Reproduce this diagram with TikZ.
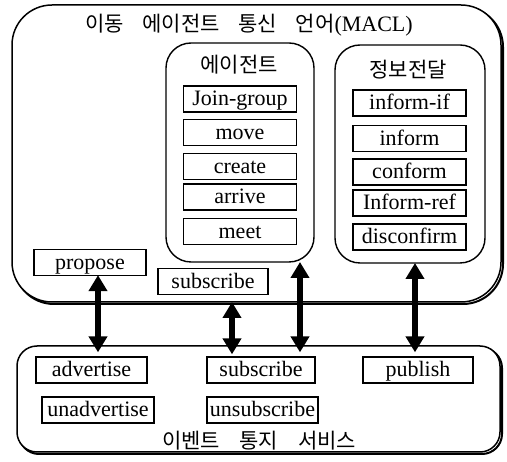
\documentclass[tikz,border=0pt]{standalone}
\usepackage{fontspec}
\setmainfont{Liberation Serif}
\newfontfamily\krfont{Noto Sans CJK KR}
\usetikzlibrary{arrows.meta}
\tikzset{
  item/.style={draw, line width=1.3pt, inner sep=0pt, minimum height=26pt, text height=16pt, text depth=2pt, font=\fontsize{22}{22}\selectfont},
  grp/.style={line width=1.4pt, rounded corners=#1},
  kr/.style={font=\krfont\fontsize{21}{21}\selectfont, inner sep=0pt},
  bigarrow/.style={line width=6pt, {Triangle[length=16pt,width=18pt]}-{Triangle[length=16pt,width=18pt]}},
}
\begin{document}
\begin{tikzpicture}[x=1pt,y=-1pt]
\useasboundingbox (0,0) rectangle (507,462);
% outer MACL box with shadow
\draw[line width=2pt, rounded corners=40pt] (14,7) rectangle (503,304);
\draw[fill=white, line width=1.5pt, rounded corners=40pt] (12,5) rectangle (501,302);
\node[kr] (title) at (249,25) {이동\hspace{14pt} 에이전트\hspace{14pt} 통신\hspace{14pt} 언어{\rmfamily\fontsize{22}{22}\selectfont(MACL)}};
% agent box
\draw[grp=25pt] (166,43) rectangle (314,262);
\node[kr] (agt) at (239,65) {에이전트};
\node[item, minimum width=113pt] (join) at (240,99) {Join-group};
\node[item, minimum width=113pt] (move) at (240,132.5) {move};
\node[item, minimum width=113pt] (create) at (240,166.5) {create};
\node[item, minimum width=113pt] (arrive) at (240,197) {arrive};
\node[item, minimum width=113pt] (meet) at (240,231.5) {meet};
\coordinate (agtbox) at (240,262);
% info box
\draw[grp=25pt] (335,45) rectangle (485,263);
\node[kr] (info) at (408,70) {정보전달};
\node[item, minimum width=113pt] (iif) at (409.5,103) {inform-if};
\node[item, minimum width=113pt] (inf) at (409.5,138.5) {inform};
\node[item, minimum width=113pt] (conf) at (409.5,172) {conform};
\node[item, minimum width=113pt] (iref) at (409.5,203) {Inform-ref};
\node[item, minimum width=113pt] (disc) at (409.5,237) {disconfirm};
\coordinate (infobox) at (410,263);
% propose / subscribe
\node[item, minimum width=112pt] (propose) at (90,262.5) {propose};
\node[item, minimum width=110pt] (subu) at (213,281.5) {subscribe};
\coordinate (outerbot) at (232,302);
% bottom box with shadow
\draw[line width=2pt, rounded corners=20pt] (19,348) rectangle (502,454);
\draw[fill=white, line width=1.5pt, rounded corners=20pt] (17,346) rectangle (500,452);
\node[item, minimum width=111pt] (adv) at (91.5,370) {advertise};
\node[item, minimum width=108pt] (subl) at (261,370) {subscribe};
\node[item, minimum width=110pt] (pub) at (418,370) {publish};
\node[item, minimum width=112pt] (unadv) at (98,410) {unadvertise};
\node[item, minimum width=111pt] (unsub) at (262.5,410) {unsubscribe};
\node[kr] (evt) at (259,441) {이벤트\hspace{15pt} 통지\hspace{15pt} 서비스};
% arrows
\coordinate (x1) at (98,0);
\coordinate (x2) at (232,0);
\coordinate (x3) at (300,0);
\coordinate (x4) at (415,0);
\draw[bigarrow, shorten <=-1pt, shorten >=4pt] (propose.south -| x1) -- (adv.north -| x1);
\draw[bigarrow, shorten >=2pt] (outerbot -| x2) -- (subl.north -| x2);
\draw[bigarrow, shorten >=4pt] (agtbox -| x3) -- (subl.north -| x3);
\draw[bigarrow, shorten >=4pt] (infobox -| x4) -- (pub.north -| x4);
\end{tikzpicture}
\end{document}
